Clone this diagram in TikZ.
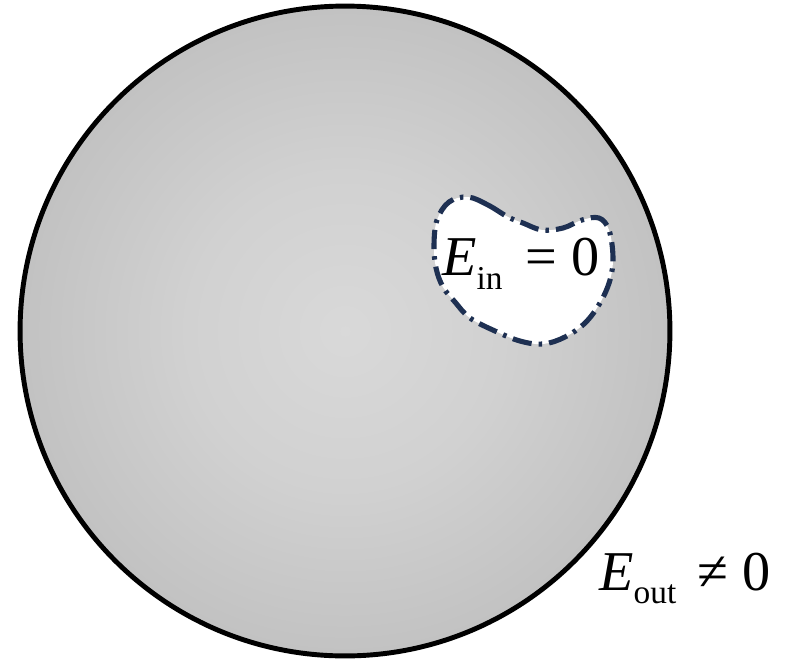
\documentclass[tikz,border=0pt]{standalone}
\usepackage{fontspec}
\setmainfont{Liberation Serif}
\newfontfamily\lblfont{Liberation Serif}
\definecolor{cavline}{RGB}{30,48,82}
\pgfdeclareradialshading{ballshade}{\pgfpoint{0bp}{0bp}}{color(0bp)=(black!15); color(12bp)=(black!18); color(38bp)=(black!30); color(50bp)=(black!38); color(72bp)=(black!38)}
\begin{document}
\begin{tikzpicture}[
    x=0.02cm, y=-0.02cm,
    ball/.style={draw=black, line width=2.8pt, shading=ballshade},
    cavity/.style={draw=cavline, fill=white, line width=2.9pt, dash pattern=on 11pt off 4pt on 2pt off 4pt},
    lbl/.style={inner sep=0pt, anchor=base west, font=\lblfont\fontsize{32}{38}\selectfont},
  ]
    \useasboundingbox (0,0) rectangle (785,667);
    \path[ball] (345,331) circle[radius=6.5cm];
    \path[cavity] plot[smooth cycle, tension=0.6] coordinates {
      (468,197) (488,205) (508,217) (523,223) (542,230) (563,228) (582,220)
      (599,218) (609,230) (613,257) (610,280) (600,303) (585,323) (565,337)
      (543,344) (520,341) (495,331) (470,318) (455,302) (443,287) (436,268)
      (434,245) (437,220) (449,202)};
    \node[lbl] (ein) at (442,275) {\textit{E}\raisebox{-8pt}{\fontsize{19}{19}\selectfont in}\hspace{13pt}= 0};
    \node[lbl] (eout) at (599,590) {\textit{E}\raisebox{-7.5pt}{\fontsize{19}{19}\selectfont out}\hspace{12pt}≠ 0};
\end{tikzpicture}
\end{document}
